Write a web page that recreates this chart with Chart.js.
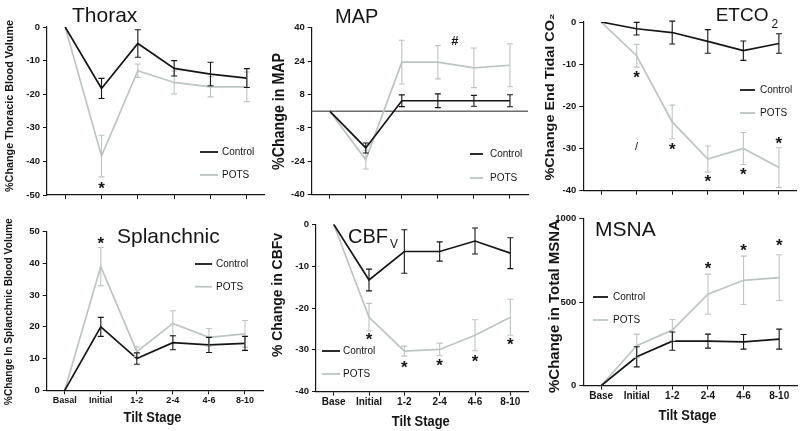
<!DOCTYPE html>
<html>
<head>
<meta charset="utf-8">
<script src="https://cdn.jsdelivr.net/npm/chart.js@4.4.0/dist/chart.umd.min.js"></script>
<style>
    body { margin: 0; background: #fff; width: 800px; height: 431px; position: relative; overflow: hidden; }
    canvas { position: absolute; }
</style>
</head>
<body>
<canvas id="thorax" width="265" height="215" style="left:0;top:0"></canvas>
<canvas id="map" width="265" height="215" style="left:265px;top:0"></canvas>
<canvas id="etco2" width="270" height="215" style="left:530px;top:0"></canvas>
<canvas id="splanchnic" width="265" height="221" style="left:0;top:210px"></canvas>
<canvas id="cbfv" width="265" height="221" style="left:265px;top:210px"></canvas>
<canvas id="msna" width="270" height="221" style="left:530px;top:210px"></canvas>
<script>
// Tilt stages
const stagesBasal = ['Basal', 'Initial', '1-2', '2-4', '4-6', '8-10'];
const stagesBase = ['Base', 'Initial', '1-2', '2-4', '4-6', '8-10'];

// Thorax
const thoraxTicks = [-50, -40, -30, -20, -10, 0];
const thoraxControl = [0, -18.3, -4.9, -12.3, -14, -15.2];
const thoraxControlErr = [0, 3, 4.1, 2.3, 3.5, 2.8];
const thoraxPots = [0, -38.4, -13, -16.5, -17.8, -17.8];
const thoraxPotsErr = [0, 6.2, 2, 3.4, 3, 4.4];
const thoraxMarks = [{ i: 1, y: -46.9, t: '*' }];

// MAP
const mapTicks = [-40, -24, -8, 8, 24, 40];
const mapControl = [0, -17.6, 5, 5, 5, 5];
const mapControlErr = [0, 2.4, 2.8, 3.3, 2.6, 2.9];
const mapPots = [0, -23.2, 23.5, 23.5, 20.8, 22];
const mapPotsErr = [0, 4.5, 10.5, 8, 9.5, 10.3];
const mapMarks = [{ i: 3.47, y: 33.2, t: '#' }];

// End tidal CO2
const etco2Ticks = [-40, -30, -20, -10, 0];
const etco2Control = [0, -1.6, -2.5, -4.6, -6.8, -5.1];
const etco2ControlErr = [0, 1.5, 2.7, 2.8, 2.3, 2.3];
const etco2Pots = [0, -8, -23.7, -32.5, -30, -34.5];
const etco2PotsErr = [0, 2.7, 4, 3.1, 3.8, 4.7];
const etco2Marks = [
    { i: 1, y: -12.3, t: '*' }, { i: 2, y: -29.3, t: '*' }, { i: 3, y: -36.9, t: '*' },
    { i: 4, y: -35.4, t: '*' }, { i: 5, y: -28, t: '*' }, { i: 1, y: -29.6, t: '/' }
];

// Splanchnic
const splanchnicTicks = [0, 10, 20, 30, 40, 50];
const splanchnicControl = [0, 20, 10, 15, 14.3, 14.8];
const splanchnicControlErr = [0, 3, 1.8, 2.2, 2.4, 2.2];
const splanchnicPots = [0, 39, 12.2, 21.1, 16.7, 17.8];
const splanchnicPotsErr = [0, 6, 1.5, 4, 2.8, 4.2];
const splanchnicMarks = [{ i: 1, y: 47.4, t: '*' }];

// CBFv
const cbfvTicks = [-40, -30, -20, -10, 0];
const cbfvControl = [0, -13.3, -6.5, -6.5, -4, -6.9];
const cbfvControlErr = [0, 2.6, 5.2, 2.3, 3.1, 3.7];
const cbfvPots = [0, -22.2, -30.3, -29.9, -26.5, -22.2];
const cbfvPotsErr = [0, 3.3, 1.2, 1.5, 3.7, 4.3];
const cbfvMarks = [
    { i: 1, y: -26.7, t: '*' }, { i: 2, y: -33.4, t: '*' }, { i: 3, y: -32.8, t: '*' },
    { i: 4, y: -32, t: '*' }, { i: 5, y: -27.9, t: '*' }
];

// MSNA
const msnaTicks = [0, 500, 1000];
const msnaControl = [0, 173, 267, 267, 263, 279];
const msnaControlErr = [0, 60, 55, 42, 44, 60];
const msnaPots = [0, 239, 333, 548, 631, 647];
const msnaPotsErr = [0, 70, 63, 120, 145, 137];
const msnaMarks = [{ i: 3, y: 721, t: '*' }, { i: 4, y: 831, t: '*' }, { i: 5, y: 861, t: '*' }];

const FONT = 'Arial, "Liberation Sans", Helvetica, sans-serif';
const BLACK = '#151515';
const GREY = '#bcc5c3';

// draws text squeezed to a given length (the figure's lettering is condensed)
function squeezedText(ctx, text, cx, cy, size, len, rotate) {
    ctx.save();
    ctx.font = 'bold ' + size + 'px ' + FONT;
    ctx.fillStyle = BLACK;
    ctx.textAlign = 'center';
    ctx.textBaseline = 'middle';
    ctx.translate(cx, cy);
    if (rotate) ctx.rotate(-Math.PI / 2);
    const w = ctx.measureText(text).width;
    ctx.scale(len / w, 1);
    ctx.fillText(text, 0, 0);
    ctx.restore();
}

const panelDecor = {
    id: 'panelDecor',
    beforeDatasetsDraw(chart, args, opts) {
        if (!opts.zeroLine) return;
        const ctx = chart.ctx, area = chart.chartArea;
        const y0 = chart.scales.y.getPixelForValue(0);
        ctx.save();
        ctx.strokeStyle = '#6f6f6f';
        ctx.lineWidth = 1.5;
        ctx.beginPath();
        ctx.moveTo(area.left, y0);
        ctx.lineTo(area.right, y0);
        ctx.stroke();
        ctx.restore();
    },
    afterDatasetsDraw(chart, args, opts) {
        const ctx = chart.ctx, xs = chart.scales.x, ys = chart.scales.y;
        // error bars, POTS first so Control sits on top
        for (let d = chart.data.datasets.length - 1; d >= 0; d--) {
            const ds = chart.data.datasets[d];
            ctx.save();
            ctx.strokeStyle = ds.borderColor;
            ctx.lineWidth = 1.1;
            ds.data.forEach((v, i) => {
                const e = ds.errors[i];
                if (!e) return;
                const px = xs.getPixelForValue(i);
                const top = ys.getPixelForValue(v + e), bot = ys.getPixelForValue(v - e);
                ctx.beginPath();
                ctx.moveTo(px, top); ctx.lineTo(px, bot);
                ctx.moveTo(px - 3, top); ctx.lineTo(px + 3, top);
                ctx.moveTo(px - 3, bot); ctx.lineTo(px + 3, bot);
                ctx.stroke();
            });
            ctx.restore();
        }
        // significance marks
        ctx.save();
        ctx.fillStyle = BLACK;
        ctx.textAlign = 'center';
        (opts.marks || []).forEach(m => {
            const px = xs.getPixelForValue(m.i), py = ys.getPixelForValue(m.y);
            if (m.t === '*') {
                ctx.font = 'bold 17px ' + FONT;
                ctx.textBaseline = 'alphabetic';
                ctx.fillText('*', px, py + 9);
            } else if (m.t === '#') {
                ctx.font = 'bold 13px ' + FONT;
                ctx.textBaseline = 'middle';
                ctx.fillText('#', px, py);
            } else {
                ctx.font = '11px ' + FONT;
                ctx.textBaseline = 'middle';
                ctx.fillText(m.t, px, py);
            }
        });
        ctx.restore();
    },
    afterDraw(chart, args, opts) {
        const ctx = chart.ctx;
        // panel title
        const t = opts.title;
        ctx.save();
        ctx.fillStyle = BLACK;
        ctx.textBaseline = 'alphabetic';
        ctx.textAlign = 'left';
        ctx.font = t.size + 'px ' + FONT;
        ctx.fillText(t.text, t.x, t.y);
        if (t.sub) {
            const w = ctx.measureText(t.text).width;
            ctx.font = t.sub.size + 'px ' + FONT;
            ctx.fillText(t.sub.text, t.x + w + t.sub.dx, t.y + t.sub.dy);
        }
        ctx.restore();
        // axis titles
        const yt = opts.yTitle;
        squeezedText(ctx, yt.text, yt.x, yt.y, yt.size, yt.len, true);
        if (opts.xTitle) {
            const xt = opts.xTitle;
            squeezedText(ctx, xt.text, xt.x, xt.y, xt.size, xt.len, false);
        }
        // legend
        const lg = opts.legend;
        ctx.save();
        ctx.font = '10px ' + FONT;
        ctx.textBaseline = 'middle';
        ctx.fillStyle = BLACK;
        chart.data.datasets.forEach((ds, k) => {
            const yy = lg.y[k];
            ctx.strokeStyle = ds.borderColor;
            ctx.lineWidth = 1.8;
            ctx.beginPath();
            ctx.moveTo(lg.x1, yy);
            ctx.lineTo(lg.x2, yy);
            ctx.stroke();
            ctx.fillText(ds.label, lg.tx, yy + 0.5);
        });
        ctx.restore();
    }
};

function makePanel(id, p) {
    const ticks = p.ticks;
    new Chart(document.getElementById(id), {
        type: 'line',
        data: {
            labels: p.labels,
            datasets: [
                { label: 'Control', data: p.control, errors: p.controlErr, borderColor: BLACK, borderWidth: 1.7 },
                { label: 'POTS', data: p.pots, errors: p.potsErr, borderColor: GREY, borderWidth: 1.7 }
            ]
        },
        options: {
            responsive: false,
            animation: false,
            events: [],
            elements: { point: { radius: 0 }, line: { tension: 0 } },
            layout: { padding: { left: 0, right: p.right, top: p.top, bottom: 0 } },
            scales: {
                x: {
                    offset: true,
                    afterFit: s => { s.height = p.xHeight; },
                    border: { color: BLACK, width: 1.2 },
                    grid: { drawOnChartArea: false, offset: false, tickLength: 4, color: BLACK },
                    ticks: {
                        display: p.showLabels, color: BLACK, padding: 1, autoSkip: false, maxRotation: 0,
                        font: { family: FONT, size: p.labelSize || 9, weight: 'bold' }
                    }
                },
                y: {
                    min: ticks[0],
                    max: ticks[ticks.length - 1],
                    afterBuildTicks: s => { s.ticks = ticks.map(v => ({ value: v })); },
                    afterFit: s => { s.width = p.yWidth; },
                    border: { color: BLACK, width: 1.2 },
                    grid: { drawOnChartArea: false, tickLength: 4, color: BLACK },
                    ticks: {
                        color: BLACK, padding: 3,
                        font: { family: FONT, size: 9.5, weight: 'bold' },
                        callback: v => String(v)
                    }
                }
            },
            plugins: {
                legend: { display: false },
                tooltip: { enabled: false },
                panelDecor: {
                    zeroLine: p.zeroLine,
                    marks: p.marks,
                    title: p.title,
                    yTitle: p.yTitle,
                    xTitle: p.xTitle,
                    legend: p.legend
                }
            }
        },
        plugins: [panelDecor]
    });
}

makePanel('thorax', {
    labels: stagesBasal, showLabels: false, ticks: thoraxTicks,
    control: thoraxControl, controlErr: thoraxControlErr, pots: thoraxPots, potsErr: thoraxPotsErr,
    marks: thoraxMarks, yWidth: 47, right: 0, top: 27, xHeight: 20,
    title: { text: 'Thorax', x: 72, y: 22, size: 21 },
    yTitle: { text: '%Change Thoracic Blood Volume', x: 10, y: 106, size: 11.5, len: 172 },
    legend: { x1: 200, x2: 218, tx: 222, y: [152, 175] }
});

makePanel('map', {
    labels: stagesBasal, showLabels: false, ticks: mapTicks, zeroLine: true,
    control: mapControl, controlErr: mapControlErr, pots: mapPots, potsErr: mapPotsErr,
    marks: mapMarks, yWidth: 46.7, right: 2, top: 27.7, xHeight: 20.3,
    title: { text: 'MAP', x: 70, y: 23, size: 20 },
    yTitle: { text: '%Change in MAP', x: 14.5, y: 111.5, size: 16, len: 117 },
    legend: { x1: 205, x2: 218, tx: 225, y: [154, 178] }
});

makePanel('etco2', {
    labels: stagesBasal, showLabels: false, ticks: etco2Ticks,
    control: etco2Control, controlErr: etco2ControlErr, pots: etco2Pots, potsErr: etco2PotsErr,
    marks: etco2Marks, yWidth: 53.3, right: 3.3, top: 22, xHeight: 24.3,
    title: { text: 'ETCO', x: 185.7, y: 21, size: 19, sub: { text: '2', dx: 3, dy: 7, size: 12 } },
    yTitle: { text: '%Change End Tidal CO\u2082', x: 20, y: 97, size: 13, len: 167 },
    legend: { x1: 210, x2: 225, tx: 230, y: [90, 113] }
});

makePanel('splanchnic', {
    labels: stagesBasal, showLabels: true, labelSize: 9, ticks: splanchnicTicks,
    control: splanchnicControl, controlErr: splanchnicControlErr, pots: splanchnicPots, potsErr: splanchnicPotsErr,
    marks: splanchnicMarks, yWidth: 46.7, right: 2, top: 21.7, xHeight: 40.7,
    title: { text: 'Splanchnic', x: 117, y: 33.3, size: 21 },
    yTitle: { text: '%Change In Splanchnic Blood Volume', x: 9.3, y: 101.7, size: 11, len: 187 },
    xTitle: { text: 'Tilt Stage', x: 152.5, y: 208, size: 14, len: 58 },
    legend: { x1: 195, x2: 212, tx: 216, y: [54, 76.7] }
});

makePanel('cbfv', {
    labels: stagesBase, showLabels: true, labelSize: 10, ticks: cbfvTicks,
    control: cbfvControl, controlErr: cbfvControlErr, pots: cbfvPots, potsErr: cbfvPotsErr,
    marks: cbfvMarks, yWidth: 51, right: 2, top: 14.3, xHeight: 39.3,
    title: { text: 'CBF', x: 83, y: 33, size: 20, sub: { text: 'V', dx: 2, dy: 5, size: 12 } },
    yTitle: { text: '% Change in CBFv', x: 13.3, y: 85, size: 14, len: 124 },
    xTitle: { text: 'Tilt Stage', x: 155.8, y: 211.7, size: 14, len: 58 },
    legend: { x1: 57, x2: 75, tx: 78, y: [141, 164] }
});

makePanel('msna', {
    labels: stagesBase, showLabels: true, labelSize: 10, ticks: msnaTicks,
    control: msnaControl, controlErr: msnaControlErr, pots: msnaPots, potsErr: msnaPotsErr,
    marks: msnaMarks, yWidth: 53.3, right: 3, top: 8.3, xHeight: 45.3,
    title: { text: 'MSNA', x: 65, y: 26, size: 21 },
    yTitle: { text: '%Change in Total MSNA', x: 24.5, y: 96.5, size: 15, len: 173 },
    xTitle: { text: 'Tilt Stage', x: 157.5, y: 206, size: 14, len: 58 },
    legend: { x1: 63, x2: 78, tx: 83, y: [87, 110] }
});
</script>
</body>
</html>
